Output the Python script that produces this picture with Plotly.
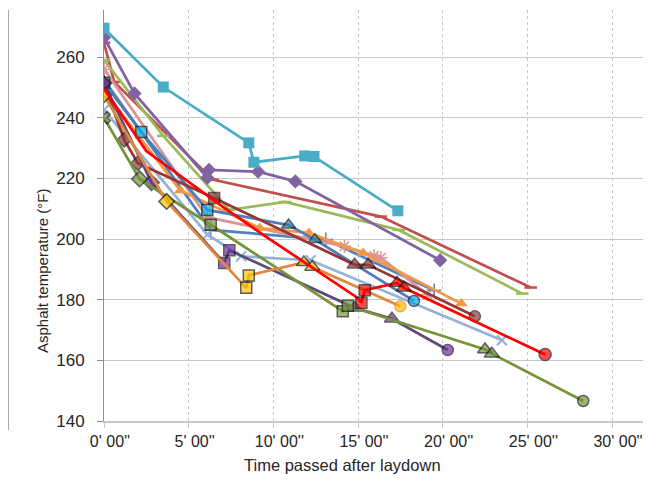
import plotly.graph_objects as go

# ---------------- data (minutes after laydown, °F) ----------------
aqua_t = [0, 3.5, 8.55, 8.85, 11.85, 12.4, 17.35]
aqua_T = [269.5, 250.1, 231.7, 225.3, 227.4, 227.2, 209.3]

purple_t = [0, 1.8, 6.1, 6.2, 9.1, 11.3, 19.85]
purple_T = [266.4, 248.0, 220.2, 222.8, 222.2, 219.0, 193.0]

brick_t = [0, 0.6, 6.4, 16.35, 25.2]
brick_T = [264.7, 251.8, 219.6, 207.4, 184.0]

green_t = [0, 3.5, 7.4, 10.7, 17.4, 24.7]
green_T = [259.0, 234.0, 209.6, 212.2, 203.0, 182.0]

blue_t = [0, 6.3, 13.1, 19.5]
blue_T = [252.5, 203.0, 199.8, 183.0]

lightblue_t = [0, 6.1, 8.1, 12.2, 23.5]
lightblue_T = [242.6, 201.5, 194.3, 193.0, 166.6]

pink_t = [0, 6.1, 14.2, 15.95, 16.35, 19.1]
pink_T = [256.0, 207.2, 197.6, 194.5, 193.8, 181.7]

orange_t = [0, 4.5, 9.2, 12.1, 15.3, 21.1]
orange_T = [249.0, 216.0, 203.6, 202.0, 195.4, 178.7]

cyan_t = [0, 2.2, 6.1, 10.9, 12.45, 18.3]
cyan_T = [251.5, 235.3, 209.6, 204.6, 199.8, 179.6]

red_t = [0, 2.5, 7.0, 9.4, 15.0, 15.2, 15.4, 17.3, 17.7, 26.05]
red_T = [249.5, 229.0, 210.7, 201.4, 180.5, 179.0, 183.1, 185.5, 183.9, 161.9]

yellow_t = [0, 3.7, 8.4, 8.55, 11.8, 12.3, 17.5]
yellow_T = [247.4, 212.4, 183.9, 188.0, 192.3, 190.8, 177.8]

violet_t = [0, 2.8, 7.1, 7.4, 14.8, 17.0, 20.3]
violet_T = [251.4, 218.6, 192.1, 196.3, 177.3, 173.7, 163.4]

olive_t = [0, 2.1, 6.3, 14.1, 14.4, 22.5, 22.9, 28.3]
olive_T = [240.0, 219.8, 204.7, 176.2, 178.0, 163.6, 162.2, 146.6]

maroon_t = [0, 1.2, 2.0, 6.5, 14.8, 15.6, 21.9]
maroon_T = [251.0, 232.7, 225.0, 213.5, 191.5, 191.5, 174.5]

tick_minutes = [0, 5, 10, 15, 20, 25, 30]
tick_labels = ["0' 00''", "5' 00''", "10' 00''", "15' 00''", "20' 00''", "25' 00''", "30' 00''"]
temp_ticks = [140, 160, 180, 200, 220, 240, 260]

# ---------------- styling ----------------
LW = 2.75
fig = go.Figure()


def add(t, T, line_color, symbols, fill, sizes, outline=None, ow=0):
    fig.add_trace(go.Scatter(
        x=t, y=T, mode="lines+markers",
        line=dict(color=line_color, width=LW),
        marker=dict(symbol=symbols, color=fill, size=sizes,
                    line=dict(color=outline if outline else fill, width=ow)),
        hoverinfo="x+y", showlegend=False))


# plain Excel-palette series
add(brick_t, brick_T, "#C0504D", "line-ew-open", "#C0504D", 9, "#C0504D", 2.5)
add(green_t, green_T, "#9BBB59", "line-ew-open", "#9BBB59", 9, "#9BBB59", 2.5)
add(blue_t, blue_T, "#4F81BD", "cross-thin-open", "#4F81BD", 10, "#4F81BD", 1.5)
add(lightblue_t, lightblue_T, "#95B3D7", "x-thin-open", "#95B3D7", 10, "#95B3D7", 2)
add(pink_t, pink_T, "#D99694", "asterisk-open", "#D99694", 11, "#D99694", 1.5)
add(orange_t, orange_T, "#F79646", "triangle-up", "#F79646", 11)
add(purple_t, purple_T, "#8064A2", "diamond", "#8064A2", 11)
add(aqua_t, aqua_T, "#4BACC6", "square", "#4BACC6", 11)

# series with black-outlined markers
add(cyan_t, cyan_T, "#4A7EBB",
    ["square", "square", "square", "triangle-up", "triangle-up", "circle"],
    ["#00B0F0", "#00B0F0", "#00B0F0", "#31859C", "#31859C", "#00B0F0"],
    [11, 11, 11, 12, 12, 11], "#1a1a1a", 1.5)
add(maroon_t, maroon_T, "#953735",
    ["diamond", "diamond", "diamond", "square", "triangle-up", "triangle-up", "circle"],
    "#953735", [10, 11, 11, 11, 13, 13, 11], "#1a1a1a", 1.5)
add(violet_t, violet_T, "#604A7B",
    ["diamond", "diamond", "square", "square", "triangle-up", "triangle-up", "circle"],
    "#7030A0", [11, 12, 11, 11, 13, 13, 11], "#1a1a1a", 1.5)
add(olive_t, olive_T, "#77933C",
    ["x", "diamond", "square", "square", "square", "triangle-up", "triangle-up", "circle"],
    "#77933C", [11, 12, 11, 11, 11, 13, 13, 11], "#1a1a1a", 1.5)
add(yellow_t, yellow_T, "#E2883A",
    ["diamond", "diamond", "square", "square", "triangle-up", "triangle-up", "circle"],
    "#FFC000", [11, 12, 11, 11, 13, 13, 11],
    ["#1a1a1a"] * 6 + ["#E2883A"], 1.5)
add(red_t, red_T, "#FF0000",
    ["circle", "circle", "circle", "circle", "circle", "square", "square",
     "triangle-up", "triangle-up", "circle"],
    "#FF0000", [0, 0, 0, 0, 0, 11, 11, 13, 13, 12], "#1a1a1a", 1.5)

FAMILY = "Liberation Sans, Arial, sans-serif"
TICKFONT = dict(family=FAMILY, color="#262626")

# the page body adds an 8 px offset, so the figure is 8 px smaller
fig.update_layout(
    width=643, height=473,
    margin=dict(l=96, r=0, t=2, b=60),
    paper_bgcolor="white", plot_bgcolor="white",
    xaxis=dict(
        range=[0, 32.3], tickmode="array", tickvals=tick_minutes, ticktext=tick_labels,
        tickfont=dict(size=16, **TICKFONT), ticklabelshift=6,
        showgrid=True, gridcolor="#C8C8C8", griddash="dot", gridwidth=1,
        showline=True, linecolor="#C8C8C8", linewidth=2,
        ticks="outside", ticklen=5, tickcolor="#C8C8C8", zeroline=False,
    ),
    yaxis=dict(
        range=[140, 275.5], tickmode="array", tickvals=temp_ticks,
        tickfont=dict(size=17, **TICKFONT),
        showgrid=True, gridcolor="#C8C8C8", gridwidth=1,
        showline=True, linecolor="#8C8C8C", linewidth=1,
        ticks="outside", ticklen=6, tickcolor="#8C8C8C", zeroline=False,
        ticklabelstandoff=9,
    ),
    shapes=[dict(type="line", xref="paper", yref="paper",
                 x0=-0.1755, x1=-0.1755, y0=-0.022, y1=1.0,
                 line=dict(color="#8C8C8C", width=1.5))],
    annotations=[
        dict(text="Asphalt temperature (°F)", xref="paper", yref="paper",
             x=(42 - 104) / 547, y=(421 - 271) / 411, textangle=-90,
             showarrow=False, xanchor="center", yanchor="middle",
             font=dict(size=15, family=FAMILY, color="#262626")),
        dict(text="Time passed after laydown", xref="paper", yref="paper",
             x=(342 - 104) / 547, y=(421 - 465) / 411,
             showarrow=False, xanchor="center", yanchor="middle",
             font=dict(size=16.5, family=FAMILY, color="#262626")),
    ],
)

fig.write_html(
    "out.html",
    post_script="document.documentElement.style.overflow='hidden';"
                "document.body.style.overflow='hidden';",
)
